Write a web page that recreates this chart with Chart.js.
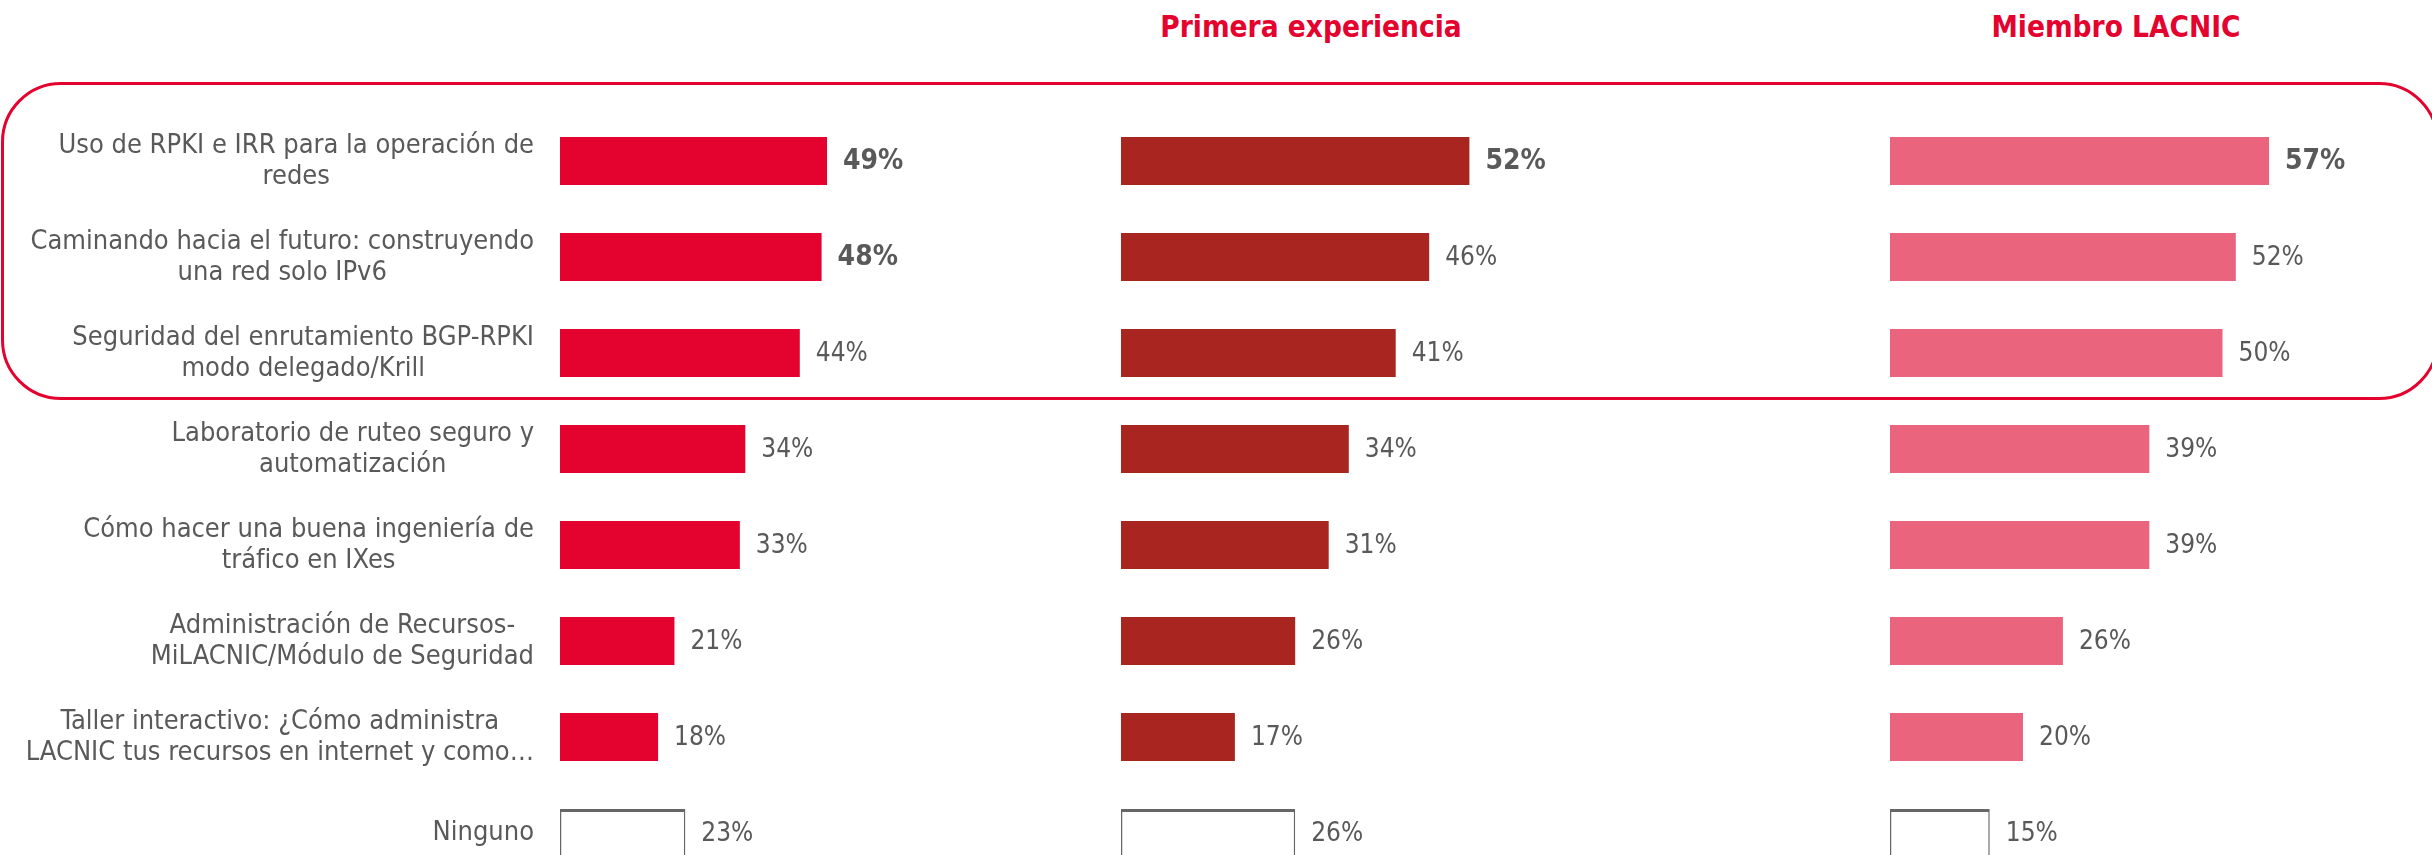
<!DOCTYPE html>
<html lang="es">
<head>
  <meta charset="UTF-8" />
  <title>Talleres de interés</title>
  <script src="https://cdn.jsdelivr.net/npm/chart.js"></script>
  <style>
    body {
      margin: 0;
      width: 2432px;
      height: 855px;
      overflow: hidden;
      position: relative;
      background: #fff;
      font-family: "Liberation Sans Narrow", "DejaVu Sans Condensed", sans-serif;
    }

    .marco {
      position: absolute;
      left: 1px;
      top: 82px;
      width: 2438px;
      height: 318px;
      box-sizing: border-box;
      border: 3px solid #E4032E;
      border-radius: 60px;
    }

    .titulo {
      position: absolute;
      top: 12px;
      font-size: 29.5px;
      line-height: 30px;
      font-weight: bold;
      color: #E4032E;
      white-space: nowrap;
      transform: translateX(-50%);
    }

    .panel {
      position: absolute;
      top: 0;
      height: 881px;
    }
  </style>
</head>
<body>
  <!-- recuadro de los tres primeros talleres -->
  <div class="marco"></div>

  <div class="titulo" id="titulo-primera" style="left:1311px"></div>
  <div class="titulo" id="titulo-miembro" style="left:2116px"></div>

  <div class="panel" style="left:0;width:1105px"><canvas id="chart-general"></canvas></div>
  <div class="panel" style="left:1121px;width:670px"><canvas id="chart-primera"></canvas></div>
  <div class="panel" style="left:1890px;width:665px"><canvas id="chart-miembro"></canvas></div>

  <script>
    const categorias = [
      ["Uso de RPKI e IRR para la operación de", "redes"],
      ["Caminando hacia el futuro: construyendo", "una red solo IPv6"],
      ["Seguridad del enrutamiento BGP-RPKI", "modo delegado/Krill"],
      ["Laboratorio de ruteo seguro y", "automatización"],
      ["Cómo hacer una buena ingeniería de", "tráfico en IXes"],
      ["Administración de Recursos-", "MiLACNIC/Módulo de Seguridad"],
      ["Taller interactivo: ¿Cómo administra", "LACNIC tus recursos en internet y como…"],
      "Ninguno"
    ];
    const valoresGeneral = [49, 48, 44, 34, 33, 21, 18, 23];
    const valoresPrimera = [52, 46, 41, 34, 31, 26, 17, 26];
    const valoresMiembro = [57, 52, 50, 39, 39, 26, 20, 15];
    const titulos = ["Primera experiencia", "Miembro LACNIC"];

    document.getElementById("titulo-primera").textContent = titulos[0];
    document.getElementById("titulo-miembro").textContent = titulos[1];

    const fuente = '"Liberation Sans Narrow", "DejaVu Sans Condensed", sans-serif';
    const gris = '#595959';

    // etiquetas de categoria: bloque alineado a la derecha, lineas centradas
    const etiquetasEje = {
      id: 'etiquetasEje',
      afterDraw(chart, args, opts) {
        if (!opts.mostrar) return;
        const ctx = chart.ctx;
        const y = chart.scales.y;
        ctx.save();
        ctx.font = '27px ' + fuente;
        ctx.fillStyle = gris;
        ctx.textAlign = 'center';
        ctx.textBaseline = 'middle';
        categorias.forEach((cat, i) => {
          const lineas = Array.isArray(cat) ? cat : [cat];
          const ancho = Math.max(...lineas.map(l => ctx.measureText(l).width));
          const cx = opts.derecha - ancho / 2;
          const yc = y.getPixelForValue(i);
          lineas.forEach((l, k) => {
            ctx.fillText(l, cx, yc + (k - (lineas.length - 1) / 2) * 31);
          });
        });
        ctx.restore();
      }
    };

    // porcentaje al final de cada barra
    const etiquetasValor = {
      id: 'etiquetasValor',
      afterDatasetsDraw(chart, args, opts) {
        const ctx = chart.ctx;
        const meta = chart.getDatasetMeta(0);
        const datos = chart.data.datasets[0].data;
        ctx.save();
        ctx.fillStyle = gris;
        ctx.textAlign = 'left';
        ctx.textBaseline = 'middle';
        meta.data.forEach((barra, i) => {
          const negrita = (opts.negrita || []).includes(i);
          ctx.font = negrita ? 'bold 28px ' + fuente : '26px ' + fuente;
          ctx.fillText(datos[i] + '%', barra.x + 16, barra.y + 1);
        });
        ctx.restore();
      }
    };

    function crearGrafico(id, valores, color, negrita, izquierda, conEtiquetas) {
      const ultimo = valores.length - 1;
      return new Chart(document.getElementById(id).getContext('2d'), {
        type: 'bar',
        data: {
          labels: categorias,
          datasets: [{
            data: valores,
            backgroundColor: valores.map((v, i) => i === ultimo ? '#ffffff' : color),
            borderColor: valores.map((v, i) => i === ultimo ? '#666666' : color),
            borderWidth: ctx => ctx.dataIndex === ultimo ? { top: 3, left: 1.5, right: 1.5, bottom: 0 } : 0,
            borderSkipped: false,
            barPercentage: 0.5,
            categoryPercentage: 1
          }]
        },
        options: {
          indexAxis: 'y',
          responsive: true,
          maintainAspectRatio: false,
          animation: false,
          layout: { padding: { left: izquierda, top: 113, right: 0, bottom: 0 } },
          scales: {
            x: { display: false, min: 0, max: 100 },
            y: { display: false }
          },
          plugins: {
            legend: { display: false },
            tooltip: { enabled: false },
            etiquetasEje: { mostrar: conEtiquetas, derecha: 534 },
            etiquetasValor: { negrita: negrita }
          }
        },
        plugins: [etiquetasEje, etiquetasValor]
      });
    }

    crearGrafico('chart-general', valoresGeneral, '#E4032E', [0, 1], 560, true);
    crearGrafico('chart-primera', valoresPrimera, '#A9251F', [0], 0, false);
    crearGrafico('chart-miembro', valoresMiembro, '#E9647C', [0], 0, false);
  </script>
</body>
</html>
